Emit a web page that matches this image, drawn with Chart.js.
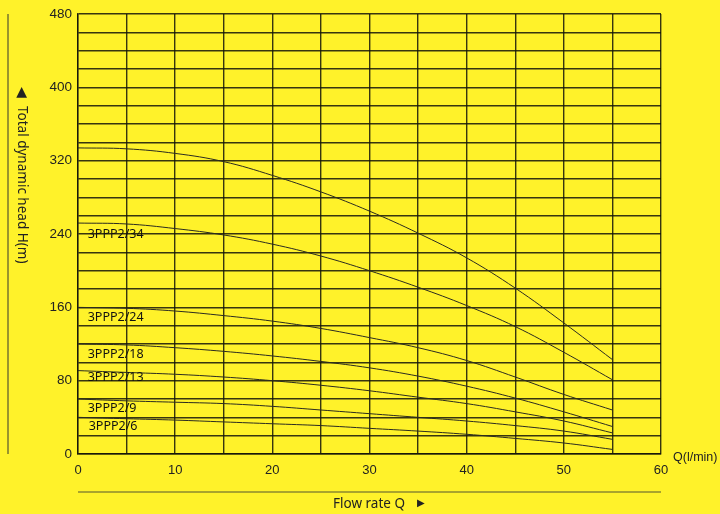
<!DOCTYPE html>
<html>
<head>
<meta charset="utf-8">
<script src="https://cdn.jsdelivr.net/npm/chart.js@4/dist/chart.umd.min.js"></script>
<style>
  html, body { margin: 0; padding: 0; background: #fff22a; }
  #wrap { width: 720px; height: 514px; position: relative; }
</style>
</head>
<body>
<div id="wrap"><canvas id="c" width="720" height="514"></canvas></div>
<script>
// ---- data ----
const flowQ = [0, 5, 10, 15, 20, 25, 30, 35, 40, 45, 50, 55];
const curveA = [334, 333, 328, 319, 304, 286, 265, 241, 214, 181, 143, 103];
const curve34 = [252, 251, 246, 239, 229, 216, 200, 182, 162, 139, 111, 81];
const curve24 = [160, 159, 156, 151, 145, 137, 127, 116, 102, 84, 65, 48];
const curve18 = [120, 119, 116, 112, 107, 101, 94, 85, 74, 61, 46, 30];
const curve13 = [91, 89, 87, 84, 80, 75, 69, 62, 55, 46, 36, 23];
const curve9 = [60, 58, 56.5, 55, 52, 48, 44, 40, 36, 31, 25, 16];
const curve6 = [40, 38.5, 37, 35, 33, 31, 28, 25, 21.5, 17, 12, 5];
const yTickLabels = [0, 80, 160, 240, 320, 400, 480];
const xTickLabels = [0, 10, 20, 30, 40, 50, 60];
const modelNames = ['3PPP2/34', '3PPP2/24', '3PPP2/18', '3PPP2/13', '3PPP2/9', '3PPP2/6'];
const modelLabelQ = [1.0, 1.0, 1.0, 1.0, 1.0, 1.1];
const modelLabelH = [240, 149, 109, 83, 50, 30];

const allCurves = [curveA, curve34, curve24, curve18, curve13, curve9, curve6];

const datasets = allCurves.map(c => ({
  data: c.map((v, i) => ({ x: flowQ[i], y: v })),
  borderColor: '#2a2a20',
  borderWidth: 1,
  pointRadius: 0,
  fill: false,
  tension: 0.4
}));

const decor = {
  id: 'decor',
  afterDatasetsDraw(chart) {
    const ctx = chart.ctx;
    const xs = chart.scales.x, ys = chart.scales.y;
    ctx.save();
    // curve labels
    ctx.fillStyle = '#111';
    ctx.font = '12.5px "Noto Sans", "Open Sans", sans-serif';
    ctx.textAlign = 'left';
    ctx.textBaseline = 'middle';
    modelNames.forEach((t, i) => {
      ctx.fillText(t, xs.getPixelForValue(modelLabelQ[i]), ys.getPixelForValue(modelLabelH[i]));
    });
    // left vertical line
    ctx.strokeStyle = '#555530';
    ctx.lineWidth = 1.2;
    ctx.beginPath();
    ctx.moveTo(8, chart.chartArea.top);
    ctx.lineTo(8, chart.chartArea.bottom);
    ctx.stroke();
    // bottom horizontal line
    ctx.beginPath();
    ctx.moveTo(chart.chartArea.left, 492);
    ctx.lineTo(chart.chartArea.right, 492);
    ctx.stroke();
    // y title
    ctx.fillStyle = '#222';
    ctx.save();
    ctx.translate(22, 92);
    ctx.rotate(Math.PI / 2);
    ctx.font = '13.5px "Noto Sans", "Open Sans", sans-serif';
    ctx.textAlign = 'left';
    ctx.textBaseline = 'middle';
    ctx.fillText('\u25C0', -5, 0);
    ctx.fillText('Total dynamic head H(m)', 14, 0);
    ctx.restore();
    // x title
    ctx.font = '13.5px "Noto Sans", "Open Sans", sans-serif';
    ctx.textAlign = 'left';
    ctx.textBaseline = 'middle';
    ctx.fillText('Flow rate Q', 333, 504);
    ctx.font = '10px "DejaVu Sans", sans-serif';
    ctx.fillText('\u25B6', 417, 503);
    // unit
    ctx.font = '12.5px "Liberation Sans", Arial, sans-serif';
    ctx.fillText('Q(l/min)', 673, 458);
    ctx.restore();
  }
};

new Chart(document.getElementById('c'), {
  type: 'line',
  data: { datasets },
  options: {
    responsive: false,
    animation: false,
    layout: { padding: { left: 0, top: 9, right: 59, bottom: 0 } },
    plugins: { legend: { display: false }, tooltip: { enabled: false } },
    scales: {
      x: {
        type: 'linear',
        min: 0, max: 60,
        afterFit(s) { s.height = 60; },
        grid: { color: 'rgba(20,20,10,0.85)', lineWidth: 1.4, drawTicks: false },
        border: { color: 'rgba(20,20,10,0.85)', width: 1.4 },
        ticks: {
          stepSize: 5,
          padding: 9,
          color: '#222',
          font: { family: '"Liberation Sans", Arial, sans-serif', size: 13 },
          maxRotation: 0,
          autoSkip: false,
          callback: v => xTickLabels.includes(v) ? String(v) : ''
        }
      },
      y: {
        type: 'linear',
        min: 0, max: 480,
        afterFit(s) { s.width = 78; },
        grid: { color: 'rgba(20,20,10,0.85)', lineWidth: 1.4, drawTicks: false },
        border: { color: 'rgba(20,20,10,0.85)', width: 1.4 },
        ticks: {
          stepSize: 20,
          padding: 6,
          color: '#222',
          font: { family: '"Liberation Sans", Arial, sans-serif', size: 13.5 },
          autoSkip: false,
          callback: v => yTickLabels.includes(v) ? String(v) : ''
        }
      }
    }
  },
  plugins: [decor]
});
</script>
</body>
</html>
